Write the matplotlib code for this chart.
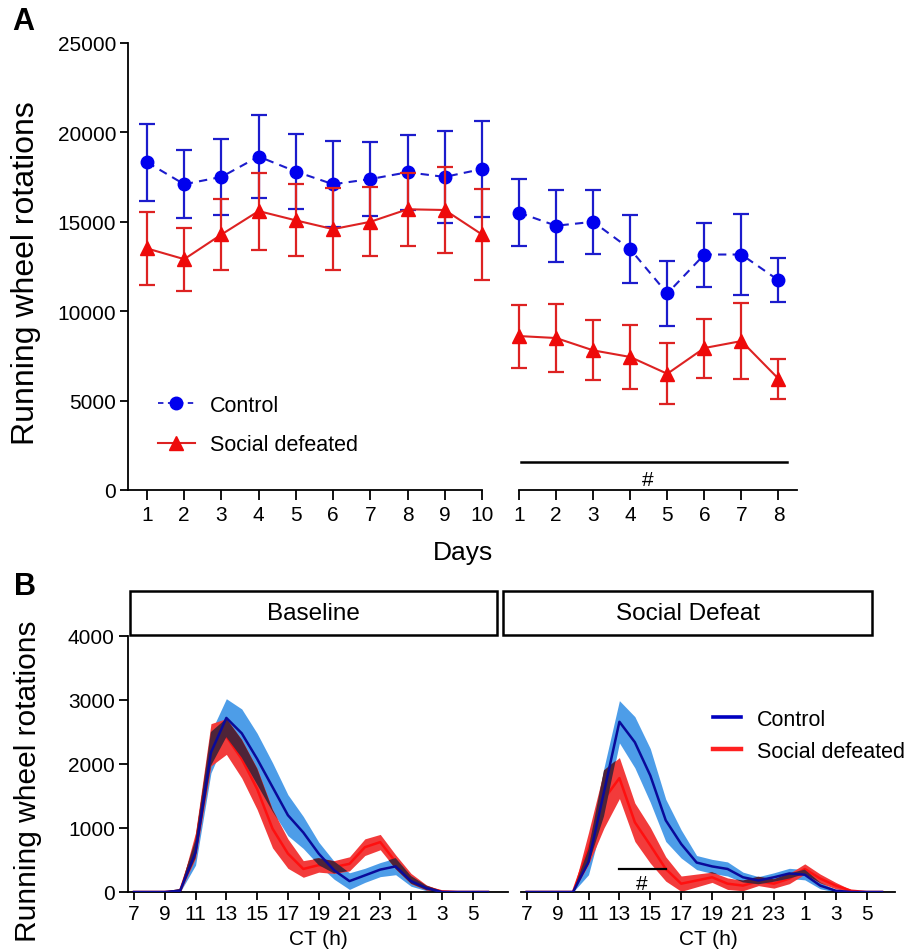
import matplotlib
matplotlib.use('Agg')
import matplotlib.pyplot as plt
from matplotlib.lines import Line2D
from matplotlib.patches import Rectangle
import numpy as np

plt.rcParams['font.family'] = ['Liberation Sans', 'DejaVu Sans']

# ---------------- Panel A data ----------------
days_baseline = [1, 2, 3, 4, 5, 6, 7, 8, 9, 10]
days_defeat = [1, 2, 3, 4, 5, 6, 7, 8]

ctrl_baseline = [18330, 17100, 17510, 18650, 17810, 17100, 17390, 17770, 17510, 17950]
ctrl_baseline_err = [2160, 1900, 2130, 2300, 2120, 2410, 2070, 2100, 2590, 2660]
sd_baseline = [13510, 12910, 14290, 15600, 15080, 14590, 15000, 15700, 15660, 14290]
sd_baseline_err = [2020, 1760, 2010, 2150, 2010, 2280, 1940, 2040, 2430, 2520]

ctrl_defeat = [15510, 14780, 15000, 13470, 10990, 13170, 13170, 11730]
ctrl_defeat_err = [1880, 2020, 1800, 1910, 1800, 1790, 2260, 1220]
sd_defeat = [8610, 8500, 7810, 7440, 6500, 7940, 8330, 6220]
sd_defeat_err = [1760, 1890, 1670, 1780, 1700, 1650, 2110, 1120]

# ---------------- Panel B data ----------------
ct_hours = list(range(7, 31))  # CT7 ... CT6 (next day)
ct_tick_pos = list(range(7, 30, 2))
ct_tick_labels = ['7', '9', '11', '13', '15', '17', '19', '21', '23', '1', '3', '5']

base_ctrl = [0, 0, 0, 20, 620, 2180, 2720, 2480, 2080, 1640, 1200, 930,
             600, 340, 170, 260, 350, 400, 170, 60, 0, 0, 0, 0]
base_ctrl_sem = [5, 5, 5, 30, 200, 320, 300, 380, 400, 380, 320, 250,
                 180, 140, 130, 110, 110, 130, 80, 40, 15, 5, 5, 5]
base_sd = [0, 0, 0, 20, 730, 2300, 2430, 2080, 1610, 990, 600, 360,
           420, 390, 440, 700, 780, 470, 210, 70, 10, 0, 0, 0]
base_sd_sem = [5, 5, 5, 30, 200, 330, 280, 300, 320, 300, 230, 130,
               110, 100, 110, 130, 120, 110, 80, 40, 15, 5, 5, 5]

def_ctrl = [0, 0, 0, 0, 470, 1560, 2660, 2340, 1820, 1120, 750, 460,
            400, 360, 230, 180, 230, 290, 270, 100, 20, 0, 0, 0]
def_ctrl_sem = [5, 5, 5, 10, 200, 380, 330, 400, 420, 330, 220, 110,
                110, 110, 80, 60, 70, 80, 80, 50, 20, 5, 5, 5]
def_sd = [0, 0, 0, 0, 680, 1450, 1780, 1090, 730, 360, 130, 180,
          230, 130, 100, 170, 130, 210, 360, 210, 100, 20, 0, 0]
def_sd_sem = [5, 5, 5, 10, 250, 450, 320, 300, 280, 190, 120, 100,
              80, 90, 80, 70, 70, 80, 80, 70, 50, 15, 5, 5]

# ---------------- colours ----------------
BLUE = '#0000ee'
BLUE_E = '#1c1ccc'
RED = '#ee0a0a'
RED_E = '#dd2222'
BAND_B = '#4d9de8'
BAND_R = '#f23b3b'
BAND_O = '#4e2438'
LINE_B = '#0a0a9a'
LINE_R = '#ff1010'

W, H = 921, 953
fig = plt.figure(figsize=(W / 100, H / 100), dpi=100)


def px_axes(l, t, r, b):
    return fig.add_axes([l / W, 1 - b / H, (r - l) / W, (b - t) / H])


TICK_FS = 15

# ---------------- Panel A ----------------
axl = px_axes(128, 44, 482, 491)
axr = px_axes(519, 44, 797, 491)

for ax, x, c, ce, s, se in [
    (axl, days_baseline, ctrl_baseline, ctrl_baseline_err, sd_baseline, sd_baseline_err),
    (axr, days_defeat, ctrl_defeat, ctrl_defeat_err, sd_defeat, sd_defeat_err),
]:
    ax.plot(x, c, color=BLUE_E, lw=1.5, dashes=(4, 3), zorder=2)
    ax.errorbar(x, c, yerr=ce, fmt='o', color=BLUE, ecolor=BLUE_E, ms=9,
                elinewidth=1.6, capsize=5.5, capthick=1.6, zorder=3, clip_on=False)
    ax.plot(x, s, color=RED_E, lw=1.5, zorder=4)
    ax.errorbar(x, s, yerr=se, fmt='^', color=RED, ecolor=RED_E, ms=10,
                elinewidth=1.6, capsize=5.5, capthick=1.6, zorder=5, clip_on=False)
    ax.set_ylim(0, 25000)
    for sp in ['top', 'right']:
        ax.spines[sp].set_visible(False)
    ax.spines['bottom'].set_linewidth(1.3)
    ax.spines['left'].set_linewidth(1.3)
    ax.tick_params(axis='x', length=7, width=1.3, labelsize=TICK_FS, pad=4)
    ax.tick_params(axis='y', length=5.5, width=1.3, labelsize=TICK_FS, pad=3)

axl.set_xlim(0.49, 10)
axl.set_xticks(days_baseline)
axl.set_yticks([0, 5000, 10000, 15000, 20000, 25000])
axr.set_xlim(1, 8.5)
axr.set_xticks(days_defeat)
axr.spines['left'].set_visible(False)
axr.set_yticks([])

axr.plot([1.05, 8.22], [1550, 1550], color='black', lw=1.8, clip_on=False)
axr.text(4.48, 600, '#', ha='center', va='center', fontsize=15)

leg_handles = [
    Line2D([], [], color=BLUE_E, lw=1.3, dashes=(3, 2.5), marker='o', ms=9,
           markerfacecolor=BLUE, markeredgecolor=BLUE),
    Line2D([], [], color=RED_E, lw=1.5, marker='^', ms=10,
           markerfacecolor=RED, markeredgecolor=RED),
]
fig.legend(leg_handles, ['Control', 'Social defeated'], loc='upper left',
           bbox_to_anchor=(158 / W, 1 - 396 / H), frameon=False, fontsize=15.5,
           handlelength=1.7, handletextpad=0.7, labelspacing=0.84,
           borderpad=0, borderaxespad=0)

fig.text(463 / W, 1 - 553 / H, 'Days', ha='center', va='center', fontsize=19)
fig.text(26 / W, 1 - 273 / H, 'Running wheel rotations', rotation=90,
         ha='center', va='center', fontsize=23)
fig.text(12 / W, 1 - 22 / H, 'A', ha='left', va='center', fontsize=22, weight='bold')

# ---------------- Panel B ----------------
axbl = px_axes(128, 637, 508, 893)
axbr = px_axes(521, 637, 895, 893)

for ax, c, cs, s, ss in [
    (axbl, base_ctrl, base_ctrl_sem, base_sd, base_sd_sem),
    (axbr, def_ctrl, def_ctrl_sem, def_sd, def_sd_sem),
]:
    x = np.array(ct_hours, dtype=float)
    c = np.array(c, dtype=float)
    cs = np.array(cs, dtype=float)
    s = np.array(s, dtype=float)
    ss = np.array(ss, dtype=float)
    cl, cu = np.clip(c - cs, 0, None), c + cs
    sl, su = np.clip(s - ss, 0, None), s + ss
    ax.fill_between(x, cl, cu, color=BAND_B, lw=0, zorder=1)
    ax.fill_between(x, sl, su, color=BAND_R, lw=0, zorder=2)
    ax.plot(x, s, color=LINE_R, lw=1.8, zorder=2.5)
    lo = np.maximum(cl, sl)
    hi = np.minimum(cu, su)
    ax.fill_between(x, lo, hi, where=hi > lo, interpolate=True, color=BAND_O,
                    lw=0, zorder=3)
    ax.plot(x, c, color=LINE_B, lw=1.8, zorder=4)
    ax.set_ylim(0, 4000)
    ax.set_xticks(ct_tick_pos)
    ax.set_xticklabels(ct_tick_labels)
    for sp in ['top', 'right']:
        ax.spines[sp].set_visible(False)
    ax.spines['bottom'].set_linewidth(1.3)
    ax.spines['left'].set_linewidth(1.3)
    ax.tick_params(axis='x', length=6, width=1.3, labelsize=TICK_FS, pad=3)
    ax.tick_params(axis='y', length=6.5, width=1.3, labelsize=TICK_FS, pad=3)
    ax.set_xlabel('CT (h)', fontsize=15, labelpad=4)

axbl.set_xlim(6.61, 31.3)
axbl.set_yticks([0, 1000, 2000, 3000, 4000])
axbr.set_xlim(6.63, 30.84)
axbr.spines['left'].set_visible(False)
axbr.set_yticks([])

axbr.plot([13, 16], [363, 363], color='black', lw=1.6, zorder=6)
axbr.text(14.44, 130, '#', ha='center', va='center', fontsize=15, zorder=6)

legb_handles = [Line2D([], [], color='#0000c0', lw=2.6),
                Line2D([], [], color='#ff2020', lw=3.2)]
fig.legend(legb_handles, ['Control', 'Social defeated'], loc='upper left',
           bbox_to_anchor=(713 / W, 1 - 710 / H), frameon=False, fontsize=15.5,
           handlelength=1.3, handletextpad=0.75, labelspacing=0.5,
           borderpad=0, borderaxespad=0)

# strip headers
for (l, r, label) in [(130, 497, 'Baseline'), (503, 872, 'Social Defeat')]:
    fig.add_artist(Rectangle((l / W, 1 - 636 / H), (r - l) / W, 44 / H,
                             transform=fig.transFigure, fill=False,
                             lw=1.8, edgecolor='black'))
    fig.text((l + r) / 2 / W, 1 - 614 / H, label, ha='center', va='center',
             fontsize=17.5)

fig.text(28 / W, 1 - 781 / H, 'Running wheel rotations', rotation=90,
         ha='center', va='center', fontsize=21.5)
fig.text(14 / W, 1 - 587 / H, 'B', ha='left', va='center', fontsize=22, weight='bold')

fig.savefig('out.png', dpi=100)
